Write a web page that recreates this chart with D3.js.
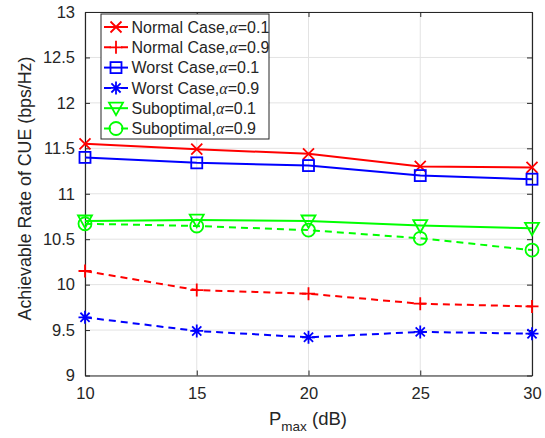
<!DOCTYPE html>
<html><head><meta charset="utf-8">
<script src="https://cdn.jsdelivr.net/npm/d3@7"></script>
<style>body{margin:0;background:#fff}svg{display:block}text{font-family:"Liberation Sans",Arial,sans-serif;fill:#262626}</style>
</head><body><svg id="c" width="545" height="438"></svg>
<script>
const xValues = [10, 15, 20, 25, 30];
const xTicks = [10, 15, 20, 25, 30];
const yTicks = [9, 9.5, 10, 10.5, 11, 11.5, 12, 12.5, 13];
const seriesNames = ["Normal Case,", "Normal Case,", "Worst Case,", "Worst Case,", "Suboptimal,", "Suboptimal,"];
const seriesAlpha = ["0.1", "0.9", "0.1", "0.9", "0.1", "0.9"];
const normal01 = [11.55, 11.49, 11.44, 11.30, 11.29];
const normal09 = [10.15, 9.94, 9.90, 9.79, 9.76];
const worst01 = [11.40, 11.34, 11.31, 11.20, 11.16];
const worst09 = [9.64, 9.49, 9.42, 9.48, 9.46];
const sub01 = [10.70, 10.71, 10.70, 10.65, 10.62];
const sub09 = [10.67, 10.645, 10.60, 10.51, 10.38];

const seriesStyle = [
  {data: normal01, color: "#ff0000", dash: null, marker: "x"},
  {data: normal09, color: "#ff0000", dash: "7,5", marker: "+"},
  {data: worst01, color: "#0000ff", dash: null, marker: "square"},
  {data: worst09, color: "#0000ff", dash: "7,5", marker: "star"},
  {data: sub01, color: "#00ff00", dash: null, marker: "tri"},
  {data: sub09, color: "#00ff00", dash: "7,5", marker: "circle"}
];

const L = 85, R = 532, T = 12, B = 375.5;
const svg = d3.select("#c");
const x = d3.scaleLinear().domain([10, 30]).range([L, R]);
const y = d3.scaleLinear().domain([9, 13]).range([B, T]);

// grid
const g = svg.append("g");
g.selectAll(".gx").data(xTicks).join("line").attr("x1", d => x(d)).attr("x2", d => x(d))
  .attr("y1", T).attr("y2", B).attr("stroke", "#e3e3e3").attr("stroke-width", 1);
g.selectAll(".gy").data(yTicks).join("line").attr("y1", d => y(d)).attr("y2", d => y(d))
  .attr("x1", L).attr("x2", R).attr("stroke", "#e3e3e3").attr("stroke-width", 1);

// axes
const tl = 5;
const axB = svg.append("g").attr("transform", `translate(0,${B})`)
  .call(d3.axisBottom(x).tickValues(xTicks).tickSizeInner(-tl).tickSizeOuter(0).tickPadding(12));
const axT = svg.append("g").attr("transform", `translate(0,${T})`)
  .call(d3.axisTop(x).tickValues(xTicks).tickSizeInner(-tl).tickSizeOuter(0).tickFormat(""));
const axL = svg.append("g").attr("transform", `translate(${L},0)`)
  .call(d3.axisLeft(y).tickValues(yTicks).tickSizeInner(-tl).tickSizeOuter(0).tickPadding(12).tickFormat(d3.format("")));
const axR = svg.append("g").attr("transform", `translate(${R},0)`)
  .call(d3.axisRight(y).tickValues(yTicks).tickSizeInner(-tl).tickSizeOuter(0).tickFormat(""));
[axB, axT, axL, axR].forEach(a => {
  a.selectAll("path").attr("stroke", "#262626").attr("stroke-width", 1.2);
  a.selectAll("line").attr("stroke", "#262626").attr("stroke-width", 1);
  a.selectAll("text").attr("font-size", 16.5).attr("fill", "#262626")
    .style("font-family", '"Liberation Sans",Arial,sans-serif');
});
axB.selectAll("text").attr("dy", "0.71em");
axL.selectAll("text").attr("dx", "2");

// markers
function drawMarker(sel, type, cx, cy, color) {
  const m = sel.append("g").attr("transform", `translate(${cx},${cy})`)
    .attr("fill", "none").attr("stroke", color).attr("stroke-width", 1.8);
  if (type === "x") {
    const s = 5.5;
    m.append("path").attr("d", `M${-s},${-s}L${s},${s}M${-s},${s}L${s},${-s}`);
  } else if (type === "+") {
    const s = 6.5;
    m.append("path").attr("d", `M${-s},0L${s},0M0,${-s}L0,${s}`);
  } else if (type === "square") {
    m.append("rect").attr("x", -5.5).attr("y", -5.5).attr("width", 11).attr("height", 11);
  } else if (type === "star") {
    const s = 6.5, d = 4.6;
    m.append("path").attr("d", `M${-s},0L${s},0M0,${-s}L0,${s}M${-d},${-d}L${d},${d}M${-d},${d}L${d},${-d}`);
  } else if (type === "tri") {
    m.append("path").attr("d", `M-7,-5.5L7,-5.5L0,7Z`);
  } else if (type === "circle") {
    m.append("circle").attr("r", 6.5);
  }
}

const line = d3.line().x((d, i) => x(xValues[i])).y(d => y(d));
seriesStyle.forEach(s => {
  svg.append("path").datum(s.data).attr("d", line).attr("fill", "none")
    .attr("stroke", s.color).attr("stroke-width", 2)
    .attr("stroke-dasharray", s.dash);
});
seriesStyle.forEach(s => {
  s.data.forEach((v, i) => drawMarker(svg, s.marker, x(xValues[i]), y(v), s.color));
});

// legend
const lg = svg.append("g");
lg.append("rect").attr("x", 101).attr("y", 14).attr("width", 168).attr("height", 125)
  .attr("fill", "#fff").attr("stroke", "#262626").attr("stroke-width", 1);
seriesStyle.forEach((s, i) => {
  const cy = 27 + i * 20.3;
  lg.append("line").attr("x1", 104).attr("x2", 128).attr("y1", cy).attr("y2", cy)
    .attr("stroke", s.color).attr("stroke-width", 2)
    .attr("stroke-dasharray", s.dash ? "7,10" : null);
  drawMarker(lg, s.marker, 116, cy, s.color);
  const t = lg.append("text").attr("x", 131.5).attr("y", cy + 5.8).attr("font-size", 16);
  t.append("tspan").text(seriesNames[i]);
  t.append("tspan").text("α").attr("font-style", "italic").style("font-family", '"Liberation Serif","Times New Roman",serif');
  t.append("tspan").text("=" + seriesAlpha[i]);
});

// axis labels
const xl = svg.append("text").attr("x", 308).attr("y", 425).attr("text-anchor", "middle").attr("font-size", 18.5);
xl.append("tspan").text("P");
xl.append("tspan").text("max").attr("font-size", 13.5).attr("dy", 6);
xl.append("tspan").text(" (dB)").attr("dy", -6);
svg.append("text").attr("transform", "translate(31,188.5) rotate(-90)").attr("text-anchor", "middle")
  .attr("font-size", 17.8).text("Achievable Rate of CUE (bps/Hz)");
</script></body></html>
